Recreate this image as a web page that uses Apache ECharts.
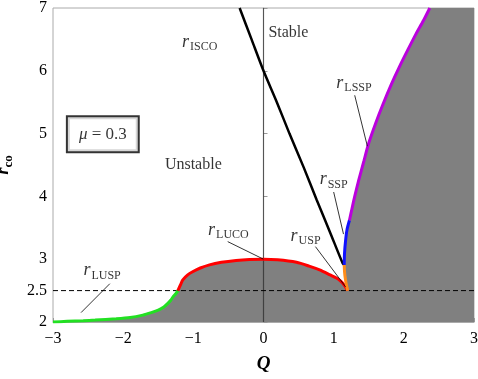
<!DOCTYPE html>
<html><head><meta charset="utf-8">
<script src="https://cdn.jsdelivr.net/npm/echarts@6/dist/echarts.min.js"></script>
<style>html,body{margin:0;padding:0;background:#fff}#c{width:478px;height:379px}</style>
</head><body><div id="c"></div><script>
// ---- data ----
const xTicks = [-3, -2, -1, 0, 1, 2, 3];
const yTicks = [2, 2.5, 3, 4, 5, 6, 7];

const luspX = [-3, -2.8, -2.57, -2.4, -2.1, -1.9, -1.72, -1.6, -1.5, -1.42, -1.36, -1.32, -1.29, -1.25, -1.22];
const luspY = [2.0, 2.01, 2.02, 2.03, 2.05, 2.07, 2.11, 2.15, 2.19, 2.24, 2.30, 2.35, 2.40, 2.45, 2.5];

const lucoX = [-1.22, -1.18, -1.15, -1.08, -1.01, -0.9, -0.77, -0.6, -0.39, -0.2, 0, 0.2, 0.47, 0.65, 0.80, 0.95, 1.04, 1.10, 1.15, 1.18, 1.20];
const lucoY = [2.5, 2.6, 2.67, 2.75, 2.80, 2.86, 2.91, 2.95, 2.98, 2.995, 3.0, 2.99, 2.95, 2.89, 2.83, 2.75, 2.70, 2.65, 2.59, 2.54, 2.5];

const uspX = [1.20, 1.18, 1.165, 1.155, 1.15];
const uspY = [2.5, 2.6, 2.7, 2.8, 2.91];

const sspX = [1.15, 1.155, 1.17, 1.19, 1.225];
const sspY = [2.91, 3.1, 3.3, 3.47, 3.62];

const lsspX = [1.225, 1.26, 1.30, 1.36, 1.43, 1.50, 1.60, 1.70, 1.82, 1.94, 2.06, 2.17, 2.28, 2.37];
const lsspY = [3.62, 3.80, 4.00, 4.27, 4.56, 4.85, 5.17, 5.46, 5.78, 6.07, 6.34, 6.58, 6.80, 7.0];

const iscoX = [-0.34, -0.17, 0, 0.19, 0.37, 0.57, 0.76, 0.955, 1.13, 1.15];
const iscoY = [7.0, 6.5, 6.0, 5.5, 5.0, 4.47, 3.94, 3.41, 2.93, 2.91];

const fillEndX = [3];
const fillEndY = [7];

const refLineY = 2.5;
const zeroLineX = 0;

// labels
const curveLabelX = [-0.91, -2.30, -0.50, 0.60, 1.00, 1.29];
const curveLabelY = [6.44, 2.80, 3.45, 3.35, 4.25, 5.79];
const curveLabelSub = ['ISCO', 'LUSP', 'LUCO', 'USP', 'SSP', 'LSSP'];

const leaderX1 = [-2.60, -0.51, 0.74, 1.00, 1.30];
const leaderY1 = [2.15, 3.28, 3.20, 4.07, 5.61];
const leaderX2 = [-2.19, 0.00, 1.17, 1.14, 1.48];
const leaderY2 = [2.61, 3.00, 2.56, 3.40, 4.80];

const textX = [0.07, -1.0];
const textY = [6.60, 4.50];
const textStr = ['Stable', 'Unstable'];
const textAlign = ['left', 'center'];

const muX = -2.29, muY = 4.99, muText = 'μ = 0.3';

// ---- build ----
const zip = (xs, ys) => xs.map((x, i) => [x, ys[i]]);
const FONT = 'Liberation Serif';

const fillData = [].concat(zip(luspX, luspY), zip(lucoX, lucoY), zip(uspX, uspY), zip(sspX, sspY), zip(lsspX, lsspY), zip(fillEndX, fillEndY));

function curve(xs, ys, color, w, z) {
  return { type: 'line', data: zip(xs, ys), symbol: 'none', smooth: 0.25, z: z || 5,
    lineStyle: { color: color, width: w }, silent: true, animation: false };
}

const series = [
  { type: 'line', data: fillData, symbol: 'none', z: 1, silent: true, animation: false,
    lineStyle: { width: 0 }, areaStyle: { color: '#808080', opacity: 1, origin: 'start' } },
  { type: 'line', data: [[zeroLineX, yTicks[0]], [zeroLineX, yTicks[yTicks.length - 1]]], symbol: 'none', z: 2,
    lineStyle: { color: 'rgba(0,0,0,0.5)', width: 1.2 }, silent: true, animation: false },
  { type: 'line', data: [[xTicks[0], refLineY], [xTicks[xTicks.length - 1], refLineY]], symbol: 'none', z: 3,
    lineStyle: { color: '#000', width: 1, type: [5, 3] }, silent: true, animation: false },
  curve(iscoX, iscoY, '#000', 2.5),
  curve(luspX, luspY, '#22e022', 3),
  curve(lucoX, lucoY, '#ff0000', 3),
  curve(uspX, uspY, '#ff8c1a', 3),
  curve(sspX, sspY, '#1010ff', 3),
  curve(lsspX, lsspY, '#bb00dd', 3),
];

leaderX1.forEach((x, i) => {
  series.push({ type: 'line', data: [[x, leaderY1[i]], [leaderX2[i], leaderY2[i]]], symbol: 'none', z: 6,
    lineStyle: { color: '#000', width: 0.8 }, silent: true, animation: false });
});

series.push({
  type: 'scatter', symbolSize: 0, z: 10, silent: true, animation: false,
  data: curveLabelX.map((x, i) => ({ value: [x, curveLabelY[i]], sub: curveLabelSub[i] })),
  label: { show: true, position: 'inside',
    formatter: p => '{r|r}{s|' + p.data.sub + '}',
    rich: {
      r: { fontFamily: FONT, fontStyle: 'italic', fontSize: 18, color: '#000', verticalAlign: 'bottom', padding: [0, 1, 2, 0] },
      s: { fontFamily: FONT, fontSize: 12, color: '#000', verticalAlign: 'bottom' }
    } }
});

series.push({
  type: 'scatter', symbolSize: 0, z: 10, silent: true, animation: false,
  data: textX.map((x, i) => ({ value: [x, textY[i]], name: textStr[i],
    label: { align: textAlign[i] } })),
  label: { show: true, position: 'inside', formatter: p => p.name,
    fontFamily: FONT, fontSize: 16, color: '#000' }
});

series.push({
  type: 'scatter', symbolSize: 0, z: 10, silent: true, animation: false,
  data: [{ value: [muX, muY], name: muText }],
  label: { show: true, position: 'inside', formatter: p => '{m|μ} = 0.3',
    fontFamily: FONT, fontSize: 17, color: '#000', backgroundColor: '#fff',
    borderColor: '#000', borderWidth: 2, padding: [9, 11, 8, 11],
    rich: { m: { fontFamily: FONT, fontStyle: 'italic', fontSize: 17, color: '#000' } } }
});

const chart = echarts.init(document.getElementById('c'), null, { renderer: 'canvas' });
chart.setOption({
  animation: false,
  backgroundColor: '#fff',
  grid: { left: 53, right: 4, top: 8, bottom: 57, show: true, borderColor: '#aaa', borderWidth: 1,
    containLabel: false, outerBoundsMode: 'none' },
  xAxis: {
    type: 'value', min: xTicks[0], max: xTicks[xTicks.length - 1], interval: 1,
    splitLine: { show: false },
    axisLine: { show: true, lineStyle: { color: '#aaa' } },
    axisTick: { show: true, inside: true, length: 4, lineStyle: { color: '#999' } },
    axisLabel: { color: '#000', fontFamily: FONT, fontSize: 16, margin: 9,
      formatter: v => String(v).replace('-', '−') },
    name: 'Q', nameLocation: 'middle', nameGap: 33,
    nameTextStyle: { fontFamily: FONT, fontSize: 19, fontWeight: 'bold', fontStyle: 'italic', color: '#000' }
  },
  yAxis: {
    type: 'value', min: yTicks[0], max: yTicks[yTicks.length - 1], interval: 1,
    splitLine: { show: false },
    axisLine: { show: true, lineStyle: { color: '#aaa' } },
    axisTick: { show: true, inside: true, length: 4, lineStyle: { color: '#999' }, customValues: yTicks },
    axisLabel: { color: '#000', fontFamily: FONT, fontSize: 16, margin: 6, customValues: yTicks },
    name: '{r|r}{s|co}', nameLocation: 'middle', nameGap: 38, nameRotate: 90,
    nameTextStyle: { rich: {
      r: { fontFamily: FONT, fontSize: 19, fontWeight: 'bold', fontStyle: 'italic', color: '#000', verticalAlign: 'bottom', padding: [0, 0, 2, 0] },
      s: { fontFamily: FONT, fontSize: 13, fontWeight: 'bold', color: '#000', verticalAlign: 'bottom' }
    } }
  },
  series: series
});
</script></body></html>
